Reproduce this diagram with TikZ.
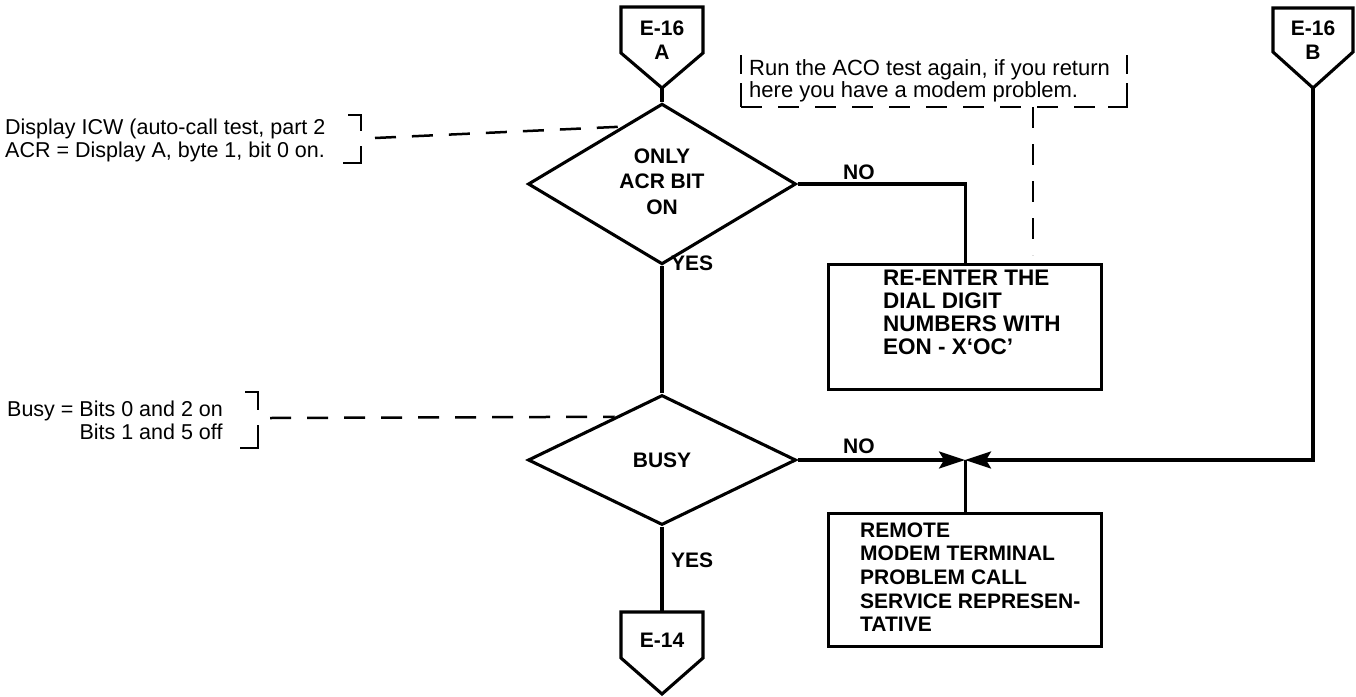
\documentclass[tikz,border=0pt]{standalone}
\usepackage{fontspec}
\setmainfont{Liberation Sans}
\usetikzlibrary{shapes.geometric,arrows.meta,calc}
\begin{document}
\begin{tikzpicture}[x=1pt,y=-1pt,
  line/.style={line width=3.1pt},
  thin/.style={line width=2.5pt},
  dline/.style={line width=2.5pt, dash pattern=on 21pt off 16pt},
  note/.style={font=\fontsize{21.5}{23}\selectfont, align=left, inner sep=0pt},
  btext/.style={font=\fontsize{22.5}{23}\selectfont\bfseries, align=left, inner sep=0pt},
  dec/.style={diamond, draw, line width=3.1pt, minimum width=268pt, minimum height=132pt, inner sep=0pt, font=\fontsize{21}{24.5}\selectfont\bfseries, align=center},
  proc/.style={draw, line width=3.1pt, rectangle, inner sep=0pt},
  lbl/.style={font=\fontsize{21}{24}\selectfont\bfseries, inner sep=0pt},
  arr/.style={-{Stealth[length=26pt,width=17pt,inset=5pt]}}
]
\useasboundingbox (0,0) rectangle (1356,696);

% off-page connector E-16 A
\draw[line] (621,7) -- (703,7) -- (703,53) -- (662,88) -- (621,53) -- cycle;
\node[lbl, align=center] (ea) at (662,40) {E-16\\A};
\coordinate (eatip) at (662,88);

% off-page connector E-16 B
\draw[line] (1273,8) -- (1353,8) -- (1353,52) -- (1313,88) -- (1273,52) -- cycle;
\node[lbl, align=center] (eb) at (1313,40) {E-16\\B};
\coordinate (ebtip) at (1313,88);

% off-page connector E-14
\draw[line] (621,612) -- (703,612) -- (703,658) -- (662,694) -- (621,658) -- cycle;
\node[lbl] (ec) at (662,640) {E-14};
\coordinate (ectop) at (662,612);

% decisions
\node[dec] (d1) at (662,184) {\raisebox{-3pt}{\begin{tabular}{@{}c@{}}ONLY\\[1pt]ACR BIT\\[1pt]ON\end{tabular}}};
\node[dec, minimum height=130pt] (d2) at (662,460) {BUSY};

% process boxes
\node[proc, minimum width=273pt, minimum height=125pt, anchor=north west] (b1) at (827,263) {};
\node[btext, anchor=north west] (t1) at (883,270) {RE-ENTER THE\\DIAL DIGIT\\NUMBERS WITH\\EON - X‘OC’};
\node[proc, minimum width=273pt, minimum height=133pt, anchor=north west] (b2) at (827,512) {};
\node[btext, anchor=north west, font=\fontsize{21}{23.6}\selectfont\bfseries] (t2) at (860,522.5) {REMOTE\\MODEM TERMINAL\\PROBLEM CALL\\SERVICE REPRESEN-\\TATIVE};

% labels
\node[lbl, anchor=west] (no1) at (843,172) {NO};
\node[lbl, anchor=west] (no2) at (843,446) {NO};
\node[lbl, anchor=west] (yes1) at (671,263) {YES};
\node[lbl, anchor=west] (yes2) at (671,560) {YES};

% main flow
\draw[line] (eatip) -- (d1.north);
\draw[line] (d1.south) -- (d2.north);
\draw[line] (d2.south) -- (ectop);
\draw[line] (d1.east) -| (b1.north);
\coordinate (m) at (b2.north |- d2.east);
\draw[line, arr] (d2.east) -- (m);
\draw[line, arr] (ebtip) |- (m);
\draw[line] (m) -- (b2.north);

% note 1
\node[note, anchor=north west] (n1) at (5,119) {Display ICW (auto-call test, part 2\\ACR = Display A, byte 1, bit 0 on.};
\draw[thin] (348,115) -- (361,115) -- (361,131);
\draw[thin] (361,146) -- (361,163) -- (343,163);
\coordinate (n1s) at (375,138);
\draw[dline] (n1s) -- ($(d1.north)!0.3!(d1.west)$);

% note 2
\node[note, anchor=north west] (n2) at (7,400.5) {Busy = Bits 0 and 2 on\\\phantom{Busy = }Bits 1 and 5 off};
\draw[thin] (245,392) -- (258,392) -- (258,410);
\draw[thin] (258,425) -- (258,448) -- (240,448);
\coordinate (n2s) at (270,418);
\draw[dline] (n2s) -- ($(d2.north)!0.35!(d2.west)$);

% note 3
\node[note, anchor=north west, font=\fontsize{22}{22.5}\selectfont] (n3) at (749,59) {Run the ACO test again, if you return\\here you have a modem problem.};
\draw[thin] (741,55) -- (741,74);
\draw[thin] (741,83) -- (741,107);
\draw[thin] (1127,55) -- (1127,74);
\draw[thin] (1127,83) -- (1127,107) -- (1108,107);
\coordinate (n3s) at (1033,107);
\draw[dline] (741,107) -- (1108,107);
\draw[dline] (n3s) -- ([yshift=8pt]b1.north -| n3s);
\end{tikzpicture}
\end{document}
